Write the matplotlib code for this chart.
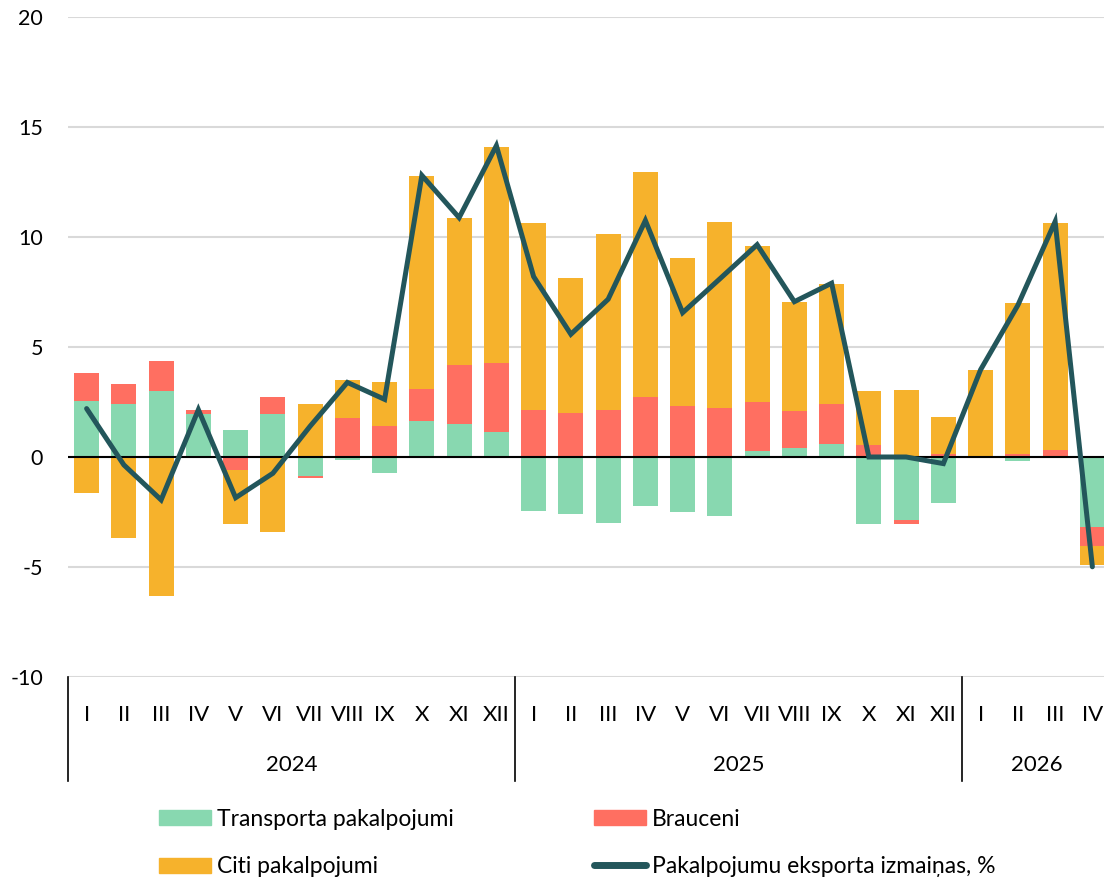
import numpy as np
import matplotlib
matplotlib.use("Agg")
import matplotlib.pyplot as plt
from matplotlib.patches import Patch
from matplotlib.lines import Line2D

plt.rcParams["font.family"] = ["Lato", "DejaVu Sans"]

months = ["I", "II", "III", "IV", "V", "VI", "VII", "VIII", "IX", "X", "XI", "XII"] * 2 + ["I", "II", "III", "IV"]
years = ["2024", "2025", "2026"]
year_len = [12, 12, 4]

transport = [2.55, 2.4, 2.98, 1.97, 1.23, 1.95, -0.86, -0.14, -0.74, 1.64, 1.51, 1.12,
             -2.45, -2.57, -3.01, -2.23, -2.49, -2.7, 0.26, 0.42, 0.6, -3.03, -2.87, -2.08,
             0.0, -0.17, 0.0, -3.17]
travel = [1.25, 0.9, 1.38, 0.16, -0.59, 0.76, -0.11, 1.76, 1.39, 1.43, 2.67, 3.14,
          2.14, 2.02, 2.15, 2.73, 2.33, 2.24, 2.22, 1.68, 1.82, 0.55, -0.16, 0.12,
          0.0, 0.14, 0.33, -0.89]
other = [-1.62, -3.67, -6.3, 0.0, -2.46, -3.42, 2.39, 1.74, 2.02, 9.7, 6.68, 9.84,
         8.5, 6.12, 8.0, 10.24, 6.7, 8.46, 7.11, 4.95, 5.44, 2.45, 3.03, 1.68,
         3.94, 6.86, 10.32, -0.85]
total = [2.2, -0.36, -1.95, 2.15, -1.85, -0.74, 1.4, 3.39, 2.62, 12.8, 10.88, 14.15,
         8.2, 5.58, 7.17, 10.75, 6.56, 8.1, 9.65, 7.06, 7.9, 0.0, 0.0, -0.3,
         3.97, 6.9, 10.7, -4.99]

c_tr = "#88D8B0"
c_br = "#FF6F61"
c_ci = "#F6B22C"
c_line = "#23565B"

fig = plt.figure(figsize=(11.04, 8.8), dpi=100)
ax = fig.add_axes([68 / 1104, 1 - 677 / 880, 1043 / 1104, 660 / 880])

x = np.arange(len(months))
pos = np.zeros(len(x))
neg = np.zeros(len(x))
for vals, col in [(transport, c_tr), (travel, c_br), (other, c_ci)]:
    v = np.array(vals)
    bottom = np.where(v >= 0, pos, neg)
    ax.bar(x, v, 0.67, bottom=bottom, color=col, zorder=2)
    pos = pos + np.where(v >= 0, v, 0)
    neg = neg + np.where(v < 0, v, 0)

ax.plot(x, total, color=c_line, lw=3.6, solid_capstyle="round",
        solid_joinstyle="miter", zorder=4)
ax.axhline(0, color="black", lw=1.5, zorder=3)

ax.set_xlim(-0.5, len(x) - 0.5)
ax.set_ylim(-10, 20)
ax.set_yticks(range(-10, 21, 5))
ax.set_yticklabels([str(t) for t in range(-10, 21, 5)], fontsize=15.5)
ax.yaxis.grid(True, color="#d9d9d9", lw=1.5, zorder=0)
ax.tick_params(axis="y", length=0, pad=18)
ax.set_xticks([])
for s in ax.spines.values():
    s.set_visible(False)

trans = ax.get_xaxis_transform()
for i, m in enumerate(months):
    ax.text(i, -0.058, m, transform=trans, ha="center", va="center", fontsize=16)

start = 0
bounds = [-0.5]
for yr, n in zip(years, year_len):
    ax.text(start + (n - 1) / 2, -0.133, yr, transform=trans, ha="center",
            va="center", fontsize=16)
    start += n
    bounds.append(start - 0.5)
for b in bounds:
    ax.plot([b, b], [0, -0.157], transform=trans, color="black", lw=1.2,
            clip_on=False)

handles = [Patch(color=c_tr), Patch(color=c_ci), Patch(color=c_br),
           Line2D([], [], color=c_line, lw=5, solid_capstyle="round")]
labels = ["Transporta pakalpojumi", "Citi pakalpojumi", "Brauceni",
          "Pakalpojumu eksporta izmaiņas, %"]
fig.legend(handles, labels, ncol=2, loc="center left",
           bbox_to_anchor=(138 / 1104, 1 - 843 / 880), frameon=False,
           fontsize=16.5, handlelength=2.27, handleheight=0.65, handletextpad=0.26,
           columnspacing=6.15, labelspacing=1.16)

fig.savefig("out.png", dpi=100)
